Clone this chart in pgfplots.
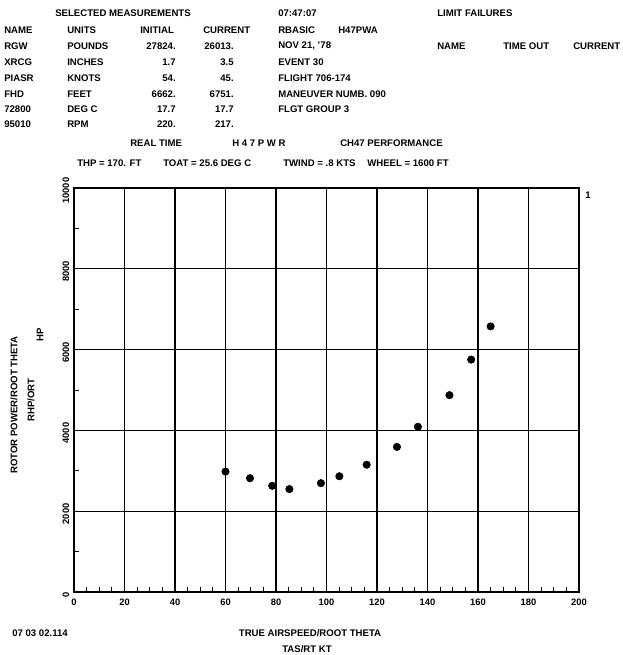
\documentclass[border=0pt]{standalone}
\usepackage{fontspec}
\setmainfont{Liberation Sans}
\usepackage{pgfplots}
\pgfplotsset{compat=1.18}
\begin{document}
\begin{tikzpicture}
\path[use as bounding box] (0,0) rectangle (466.5pt,-491.25pt);
\begin{axis}[
  at={(55.5pt,-444pt)}, anchor=south west,
  scale only axis, width=378.75pt, height=303pt,
  xmin=0, xmax=200, ymin=0, ymax=10000,
  xtick={0,20,...,200}, ytick={0,2000,...,10000},
  minor x tick num=3, minor y tick num=1,
  grid=major, major grid style={black, line width=0.8pt},
  axis line style={black, line width=0.9pt},
  tick pos=left, tick style={black, line width=0.6pt},
  minor tick length=4pt, major tick length=0pt,
  scaled y ticks=false,
  ticklabel style={font=\bfseries\fontsize{7}{8}\selectfont},
  /pgf/number format/assume math mode=true,
  /pgf/number format/set thousands separator={},
  yticklabel style={rotate=90, anchor=south, xshift=-2pt},
  xticklabel style={yshift=-2pt},
]
\addplot[only marks, mark=*, mark size=2.8pt, black] coordinates {
(60,2980) (69.7,2816) (78.5,2629) (85.3,2547) (97.8,2694) (105.1,2865)
(115.9,3151) (127.9,3592) (136.2,4090) (148.7,4872) (157.3,5753) (165,6575)
};
\end{axis}
\begin{scope}[x=0.75pt, y=-0.75pt, font=\bfseries\fontsize{7.2}{8}\selectfont, every node/.style={inner sep=0pt}]
% header
\node[anchor=west] at (55,13) {SELECTED MEASUREMENTS};
\node[anchor=west] at (278,13) {07:47:07};
\node[anchor=west] at (437,13) {LIMIT FAILURES};
% NAME row
\node[anchor=west] at (4,30) {NAME};
\node[anchor=west] at (67,30) {UNITS};
\node[anchor=west] at (140,30) {INITIAL};
\node[anchor=west] at (203,30) {CURRENT};
\node[anchor=west] at (278,30) {RBASIC};
\node[anchor=west] at (338,30) {H47PWA};
% RGW
\node[anchor=west] at (4,46) {RGW};
\node[anchor=west] at (67,46) {POUNDS};
\node[anchor=east] at (176,46) {27824.};
\node[anchor=east] at (234,46) {26013.};
\node[anchor=west] at (278,46) {NOV 21, '78};
\node[anchor=west] at (437,46) {NAME};
\node[anchor=west] at (503,46) {TIME OUT};
\node[anchor=west] at (573,46) {CURRENT};
% XRCG
\node[anchor=west] at (4,62) {XRCG};
\node[anchor=west] at (67,62) {INCHES};
\node[anchor=east] at (176,62) {1.7};
\node[anchor=east] at (234,62) {3.5};
\node[anchor=west] at (278,62) {EVENT 30};
% PIASR
\node[anchor=west] at (4,78) {PIASR};
\node[anchor=west] at (67,78) {KNOTS};
\node[anchor=east] at (176,78) {54.};
\node[anchor=east] at (234,78) {45.};
\node[anchor=west] at (278,78) {FLIGHT 706-174};
% FHD
\node[anchor=west] at (4,94) {FHD};
\node[anchor=west] at (67,94) {FEET};
\node[anchor=east] at (176,94) {6662.};
\node[anchor=east] at (234,94) {6751.};
\node[anchor=west] at (278,94) {MANEUVER NUMB. 090};
% 72800
\node[anchor=west] at (4,109) {72800};
\node[anchor=west] at (67,109) {DEG C};
\node[anchor=east] at (176,109) {17.7};
\node[anchor=east] at (234,109) {17.7};
\node[anchor=west] at (278,109) {FLGT GROUP 3};
% 95010
\node[anchor=west] at (4,124) {95010};
\node[anchor=west] at (67,124) {RPM};
\node[anchor=east] at (176,124) {220.};
\node[anchor=east] at (234,124) {217.};
% subtitle lines
\node[anchor=west] at (130,143) {REAL TIME};
\node[anchor=west] at (232,143) {H 4 7 P W R};
\node[anchor=west] at (340,143) {CH47 PERFORMANCE};
\node[anchor=west] at (77,163) {THP = 170. FT};
\node[anchor=west] at (163,163) {TOAT = 25.6 DEG C};
\node[anchor=west] at (283,163) {TWIND = .8 KTS};
\node[anchor=west] at (367,163) {WHEEL = 1600 FT};
% right mark
\node at (588,195) {1};
% y label
\node[rotate=90] at (14,405) {ROTOR POWER/ROOT THETA};
\node[rotate=90] at (31,400) {RHP/ORT};
\node[rotate=90] at (40,335) {HP};
% bottom
\node[anchor=west] at (12,633) {07 03 02.114};
\node at (310,633) {TRUE AIRSPEED/ROOT THETA};
\node at (307,649) {TAS/RT KT};
\end{scope}
\end{tikzpicture}
\end{document}
